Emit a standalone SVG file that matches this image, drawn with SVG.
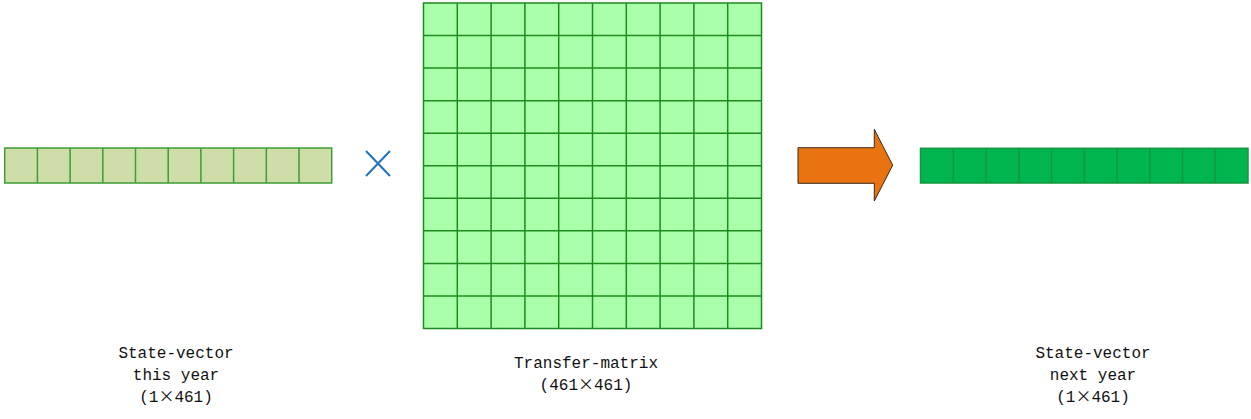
<svg xmlns="http://www.w3.org/2000/svg" width="1251" height="419" viewBox="0 0 1251 419">
<style>
.lbl{font-family:"Liberation Mono","DejaVu Sans Mono",monospace;font-size:16px;fill:#111;text-anchor:middle}
.cjk{font-family:"Noto Sans CJK SC",sans-serif}
.v1{fill:#cfdea8;stroke:#3d9e35;stroke-width:1.5}
.mx{fill:#aaffaa;stroke:#1d8c1d;stroke-width:1.5}
.v2{fill:#00b450;stroke:#14963e;stroke-width:1.5}
</style>
<rect width="1251" height="419" fill="#ffffff"/>
<g id="state-vector-this-year">
<rect class="v1" x="4.7" y="148" width="327" height="35"/>
<path class="v1" fill="none" d="M37.4 148V183M70.1 148V183M102.8 148V183M135.5 148V183M168.2 148V183M200.9 148V183M233.6 148V183M266.3 148V183M299 148V183"/>
<text class="lbl" x="176" y="358">State-vector</text>
<text class="lbl" x="176" y="380">this year</text>
<text class="lbl" x="176" y="402">(1<tspan class="cjk">×</tspan>461)</text>
</g>
<g id="multiply">
<path d="M366 151L390 176M390 151L366 176" stroke="#1f73c0" stroke-width="2" fill="none"/>
</g>
<g id="transfer-matrix">
<rect class="mx" x="423.5" y="3" width="338" height="325.5"/>
<path class="mx" fill="none" d="M457.3 3V328.5M491.1 3V328.5M524.9 3V328.5M558.7 3V328.5M592.5 3V328.5M626.3 3V328.5M660.1 3V328.5M693.9 3V328.5M727.7 3V328.5M423.5 35.55H761.5M423.5 68.1H761.5M423.5 100.65H761.5M423.5 133.2H761.5M423.5 165.75H761.5M423.5 198.3H761.5M423.5 230.85H761.5M423.5 263.4H761.5M423.5 295.95H761.5"/>
<text class="lbl" x="586" y="368">Transfer-matrix</text>
<text class="lbl" x="586" y="390">(461<tspan class="cjk">×</tspan>461)</text>
</g>
<g id="arrow">
<path d="M798 147.7H874.3V129.3L892.7 165.2L874.3 201V183.3H798Z" fill="#e97311" stroke="#3a2a1a" stroke-width="1"/>
</g>
<g id="state-vector-next-year">
<rect class="v2" x="920.5" y="148.3" width="327.5" height="34.7"/>
<path class="v2" fill="none" d="M953.3 148.3V183M986 148.3V183M1018.8 148.3V183M1051.5 148.3V183M1084.3 148.3V183M1117 148.3V183M1149.8 148.3V183M1182.5 148.3V183M1215.3 148.3V183"/>
<text class="lbl" x="1093" y="358">State-vector</text>
<text class="lbl" x="1093" y="380">next year</text>
<text class="lbl" x="1093" y="402">(1<tspan class="cjk">×</tspan>461)</text>
</g>
</svg>
